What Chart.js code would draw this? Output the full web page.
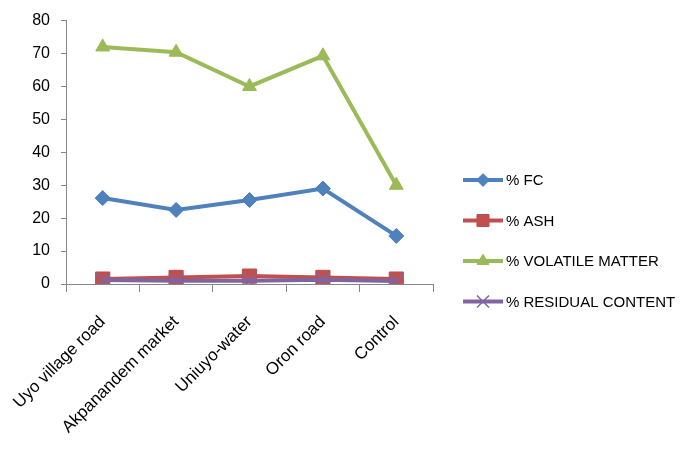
<!DOCTYPE html>
<html>
<head>
<meta charset="utf-8">
<script src="https://cdn.jsdelivr.net/npm/chart.js@4.4.1/dist/chart.umd.min.js"></script>
<style>
  html, body { margin: 0; padding: 0; background: #fff; }
  #wrap { width: 680px; height: 457px; position: relative; }
</style>
</head>
<body>
<div id="wrap"><canvas id="c" width="680" height="457"></canvas></div>
<script>
// Sampling sites along the x axis
const sites = ['Uyo village road', 'Akpanandem market', 'Uniuyo-water', 'Oron road', 'Control'];

// Proximate analysis results (%)
const fixedCarbon = [26.1, 22.5, 25.5, 29.0, 14.6];
const ash = [1.5, 2.0, 2.4, 2.0, 1.5];
const volatileMatter = [72.0, 70.4, 60.0, 69.3, 30.0];
const residualContent = [1.2, 1.0, 1.0, 1.3, 0.9];

// Y axis range and step
const yMin = 0;
const yMax = 80;
const yStep = 10;

const seriesNames = ['% FC', '% ASH', '% VOLATILE MATTER', '% RESIDUAL CONTENT'];

const BLUE = '#4F81BD', RED = '#C0504D', GREEN = '#9BBB59', PURPLE = '#8064A2';
const FONT = "'Liberation Sans', Arial, sans-serif";

const datasets = [
  { label: seriesNames[0], data: fixedCarbon, borderColor: BLUE, backgroundColor: BLUE,
    pointStyle: 'rectRot', pointRadius: 7.5, pointBorderColor: '#4A7EBB', pointBorderWidth: 1, order: 4 },
  { label: seriesNames[1], data: ash, borderColor: RED, backgroundColor: RED,
    pointStyle: 'rect', pointRadius: 10, pointBorderColor: '#BE4B48', pointBorderWidth: 1, order: 3 },
  { label: seriesNames[2], data: volatileMatter, borderColor: GREEN, backgroundColor: GREEN,
    pointStyle: 'triangle', pointRadius: 8, pointBorderColor: '#98B954', pointBorderWidth: 1, order: 2 },
  { label: seriesNames[3], data: residualContent, borderColor: PURPLE, backgroundColor: PURPLE,
    pointStyle: 'crossRot', pointRadius: 10, pointBorderColor: PURPLE, pointBorderWidth: 1.5, order: 1 }
].map(d => Object.assign({ borderWidth: 4, tension: 0, fill: false, pointHoverRadius: d.pointRadius }, d));

// Marker painter for the legend keys
function drawMarker(ctx, style, x, y, r, fill, stroke, bw) {
  ctx.save();
  ctx.fillStyle = fill;
  ctx.strokeStyle = stroke;
  ctx.lineWidth = bw;
  ctx.beginPath();
  if (style === 'rectRot') {
    ctx.moveTo(x, y - r); ctx.lineTo(x + r, y); ctx.lineTo(x, y + r); ctx.lineTo(x - r, y); ctx.closePath();
    ctx.fill(); ctx.stroke();
  } else if (style === 'rect') {
    const s = r * Math.SQRT1_2;
    ctx.rect(x - s, y - s, 2 * s, 2 * s); ctx.fill(); ctx.stroke();
  } else if (style === 'triangle') {
    for (let i = 0; i < 3; i++) {
      const a = -Math.PI / 2 + i * 2 * Math.PI / 3;
      const px = x + Math.cos(a) * r, py = y + Math.sin(a) * r;
      if (i === 0) ctx.moveTo(px, py); else ctx.lineTo(px, py);
    }
    ctx.closePath(); ctx.fill(); ctx.stroke();
  } else if (style === 'crossRot') {
    const s = r * Math.SQRT1_2;
    ctx.moveTo(x - s, y - s); ctx.lineTo(x + s, y + s);
    ctx.moveTo(x + s, y - s); ctx.lineTo(x - s, y + s);
    ctx.stroke();
  }
  ctx.restore();
}

// Legend on the right: a short line with the series marker, then the name
const sideLegend = {
  id: 'sideLegend',
  afterDraw(chart) {
    const ctx = chart.ctx;
    const x0 = chart.chartArea.right + 30;
    const lineLen = 40;
    const gap = 40.5;
    const yStart = 180;
    ctx.save();
    ctx.font = '15px ' + FONT;
    ctx.textBaseline = 'middle';
    ctx.textAlign = 'left';
    chart.data.datasets.forEach((ds, i) => {
      const y = yStart + i * gap;
      ctx.strokeStyle = ds.borderColor;
      ctx.lineWidth = 4;
      ctx.beginPath(); ctx.moveTo(x0, y); ctx.lineTo(x0 + lineLen, y); ctx.stroke();
      drawMarker(ctx, ds.pointStyle, x0 + lineLen / 2, y, ds.pointRadius * 0.85,
        ds.backgroundColor, ds.pointBorderColor, ds.pointBorderWidth);
      ctx.fillStyle = '#000';
      ctx.fillText(ds.label, x0 + lineLen + 3, y + 1);
    });
    ctx.restore();
  }
};

new Chart(document.getElementById('c'), {
  type: 'line',
  data: { labels: sites, datasets },
  plugins: [sideLegend],
  options: {
    responsive: false,
    animation: false,
    devicePixelRatio: 1,
    layout: { padding: { top: 18, right: 247, left: 0, bottom: 0 } },
    plugins: { legend: { display: false }, tooltip: { enabled: false } },
    scales: {
      x: {
        type: 'category',
        offset: true,
        grid: { offset: true, drawOnChartArea: false, drawTicks: true, tickLength: 8, color: '#868686' },
        border: { display: true, color: '#868686', width: 1 },
        ticks: { color: '#000', font: { family: FONT, size: 17 }, maxRotation: 45, minRotation: 45, padding: 20, autoSkip: false },
        afterFit(scale) {
          scale.height = 173;
          // rotated labels may hang past the plot's left edge; keep the plot where it is
          scale.paddingLeft = 0;
          scale.paddingRight = 0;
        }
      },
      y: {
        min: yMin, max: yMax,
        grid: { drawOnChartArea: false, drawTicks: true, tickLength: 5, color: '#868686' },
        border: { display: true, color: '#868686', width: 1 },
        ticks: { stepSize: yStep, color: '#000', font: { family: FONT, size: 16 }, padding: 11 },
        afterFit(scale) { scale.width = 66; }
      }
    }
  }
});
</script>
</body>
</html>
